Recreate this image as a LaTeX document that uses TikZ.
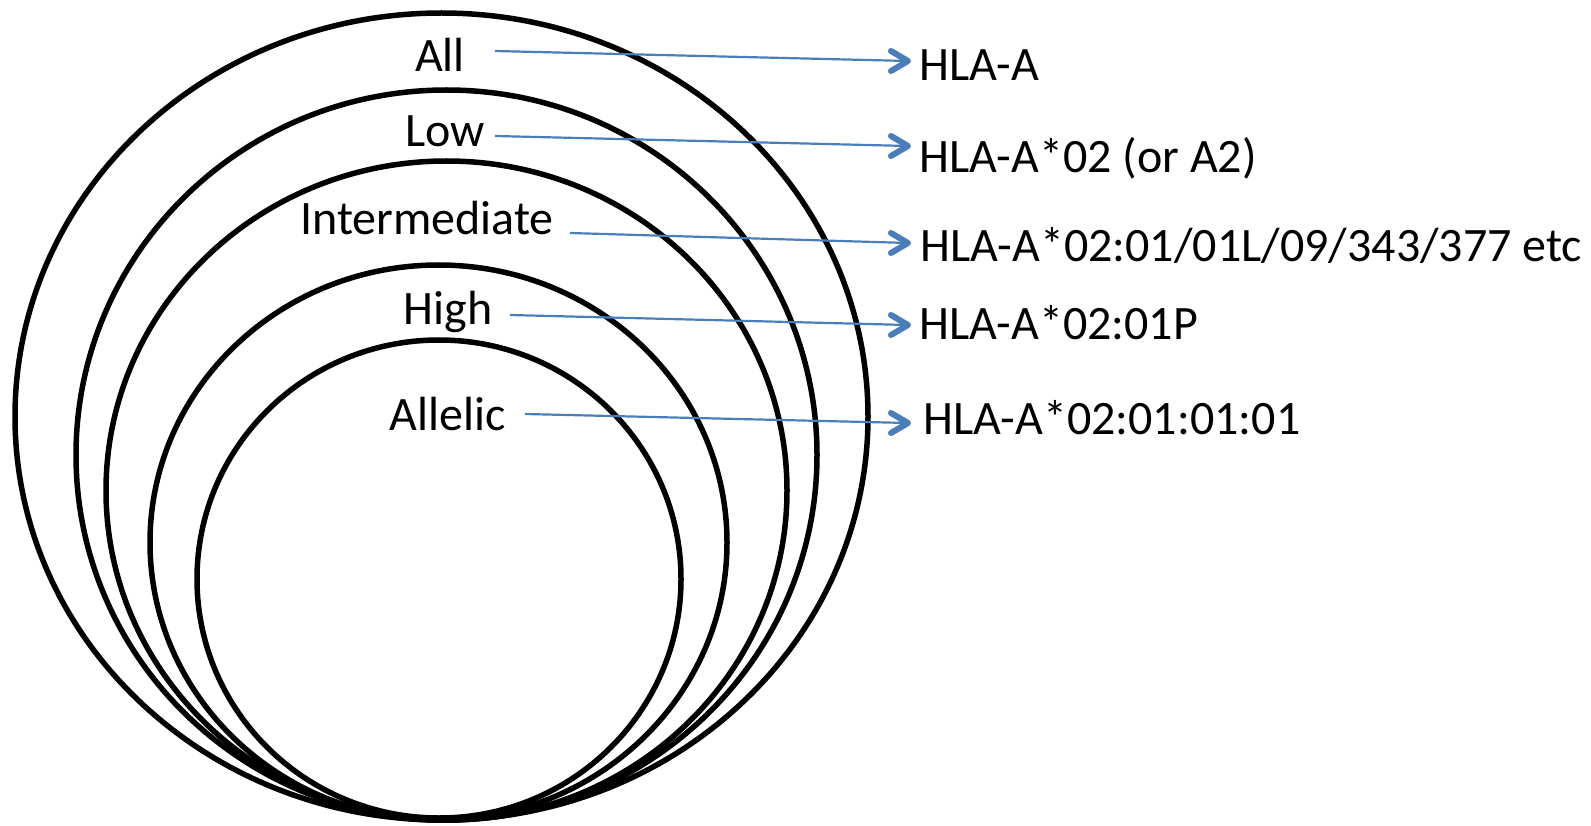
\documentclass[tikz,border=0pt]{standalone}
\usepackage{fontspec}
\setmainfont{Carlito}
\definecolor{arrowblue}{RGB}{74,126,187}
\tikzset{
  ring/.style={draw=black, line width=5.5pt},
  lvl/.style={inner sep=0pt, anchor=base, font=\fontsize{48}{56}\selectfont},
  code/.style={inner sep=0pt, anchor=base west, font=\fontsize{48}{56}\selectfont},
  pointer/.style={draw=arrowblue, line width=2.2pt},
  chevron/.style={draw=arrowblue, line width=6pt, line cap=round, line join=round}
}
\newcommand{\chev}[1]{\draw[chevron] ([shift={(-17,-10)}]#1) -- (#1) -- ([shift={(-17,10)}]#1);}
\begin{document}
\begin{tikzpicture}[x=1pt,y=-1pt]
\useasboundingbox (0,0) rectangle (1591,826);
% nested ellipses
\draw[ring] (441.5,416.5) ellipse [x radius=426.5pt, y radius=403.5pt];
\draw[ring] (446.5,455) ellipse [x radius=370.5pt, y radius=365pt];
\draw[ring] (446.5,490.5) ellipse [x radius=340.5pt, y radius=329.5pt];
\draw[ring] (438.5,542.5) ellipse [x radius=288.5pt, y radius=277.5pt];
\draw[ring] (439,579) ellipse [x radius=242pt, y radius=239pt];
% level labels
\node[lvl] (all) at (440,72) {All};
\node[lvl] (low) at (445,147) {Low};
\node[lvl] (inter) at (427,235) {Intermediate};
\node[lvl] (high) at (448,325) {High};
\node[lvl] (allelic) at (448,430) {Allelic};
% codes
\node[code] (c1) at (919,81) {HLA-A};
\node[code] (c2) at (919,173) {HLA-A*02 (or A2)};
\node[code] (c3) at (920,262) {HLA-A*02:01/01L/09/343/377 etc};
\node[code] (c4) at (919,340) {HLA-A*02:01P};
\node[code] (c5) at (923,434) {HLA-A*02:01:01:01};
% arrow ends
\coordinate (s1) at (495,51);  \coordinate (e1) at (908,61);
\coordinate (s2) at (495,136); \coordinate (e2) at (908,146);
\coordinate (s3) at (570,233); \coordinate (e3) at (908,243);
\coordinate (s4) at (510,315); \coordinate (e4) at (908,325);
\coordinate (s5) at (525,414); \coordinate (e5) at (908,423);
\draw[pointer] (s1) -- (e1); \chev{e1}
\draw[pointer] (s2) -- (e2); \chev{e2}
\draw[pointer] (s3) -- (e3); \chev{e3}
\draw[pointer] (s4) -- (e4); \chev{e4}
\draw[pointer] (s5) -- (e5); \chev{e5}
\end{tikzpicture}
\end{document}
